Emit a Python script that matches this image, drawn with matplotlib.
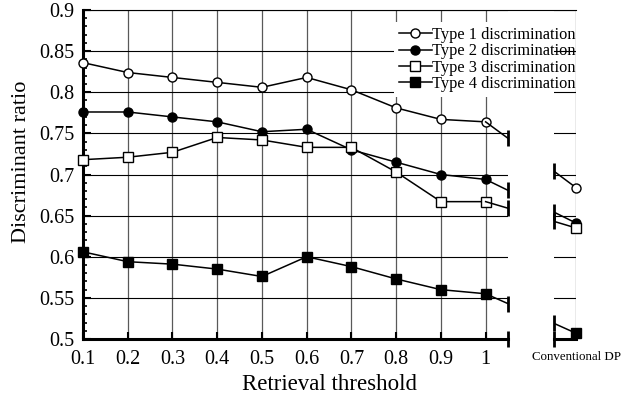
import numpy as np
import matplotlib
matplotlib.use("Agg")
import matplotlib.pyplot as plt
from matplotlib.lines import Line2D
from matplotlib.ticker import MultipleLocator

plt.rcParams['font.family'] = ['Liberation Serif', 'DejaVu Serif']

# valores
umbrales = [0.1, 0.2, 0.3, 0.4, 0.5, 0.6, 0.7, 0.8, 0.9, 1.0]
etiquetas_umbral = ['0.1', '0.2', '0.3', '0.4', '0.5', '0.6', '0.7', '0.8', '0.9', '1']
tipo1 = [0.836, 0.824, 0.818, 0.812, 0.806, 0.818, 0.803, 0.781, 0.767, 0.764]
tipo2 = [0.776, 0.776, 0.770, 0.764, 0.752, 0.755, 0.730, 0.715, 0.700, 0.694]
tipo3 = [0.718, 0.721, 0.727, 0.745, 0.742, 0.733, 0.733, 0.703, 0.667, 0.667]
tipo4 = [0.606, 0.594, 0.591, 0.585, 0.576, 0.600, 0.588, 0.573, 0.560, 0.555]
dp_convencional = [0.684, 0.641, 0.635, 0.507]
nombres = ['Type 1 discrimination', 'Type 2 discrimination',
           'Type 3 discrimination', 'Type 4 discrimination']
etiqueta_dp = 'Conventional DP'

# estilo de cada serie: (marcador, relleno)
estilos = [('o', 'white'), ('o', 'black'), ('s', 'white'), ('s', 'black')]

X_DP = 1.2          # posicion del punto "Conventional DP" tras el corte
CORTE_IZQ = 1.05    # fin del eje principal
CORTE_DER = 1.15    # inicio del eje derecho


def generar_grafico():
    W, H = 638, 407
    fig = plt.figure(figsize=(W / 100, H / 100), dpi=100)
    ax = fig.add_axes([83 / W, 68 / H, 425 / W, 329 / H])
    ax2 = fig.add_axes([554 / W, 68 / H, 22 / W, 329 / H])
    ax2.patch.set_alpha(0)

    series = [tipo1, tipo2, tipo3, tipo4]
    for serie, (mk, fc), nombre, dp in zip(series, estilos, nombres, dp_convencional):
        ax.plot(umbrales, serie, color='k', lw=1.1, marker=mk, ms=6.5,
                mfc=fc, mec='k', mew=1.0, label=nombre, clip_on=False, zorder=3)
        # tramo que cruza el corte
        tramo_x = [umbrales[-1], X_DP]
        tramo_y = [serie[-1], dp]
        ax.plot(tramo_x, tramo_y, color='k', lw=1.1, zorder=3)
        ax2.plot(tramo_x, tramo_y, color='k', lw=1.1, zorder=3)
        ax2.plot([X_DP], [dp], color='k', marker=mk, ms=6.5, mfc=fc, mec='k',
                 mew=1.0, clip_on=False, zorder=4)
        # marcas del corte
        y_izq = np.interp(CORTE_IZQ, tramo_x, tramo_y)
        y_der = np.interp(CORTE_DER, tramo_x, tramo_y)
        ax.plot([CORTE_IZQ], [y_izq], marker='|', ms=12, mew=2, color='k', clip_on=False, zorder=5)
        ax2.plot([CORTE_DER], [y_der], marker='|', ms=12, mew=2, color='k', clip_on=False, zorder=5)

    ax.plot([CORTE_IZQ], [0.5], marker='|', ms=12, mew=2, color='k', clip_on=False, zorder=5)
    ax2.plot([CORTE_DER], [0.5], marker='|', ms=12, mew=2, color='k', clip_on=False, zorder=5)

    # eje principal
    ax.set_xlim(0.1, CORTE_IZQ)
    ax.set_ylim(0.5, 0.9)
    ax.set_xticks(umbrales)
    ax.set_xticklabels(etiquetas_umbral)
    ax.yaxis.set_major_locator(MultipleLocator(0.05))
    ax.yaxis.set_minor_locator(MultipleLocator(0.01))
    ax.set_yticklabels([f'{v:g}' for v in ax.get_yticks()])
    ax.tick_params(axis='both', which='major', direction='in', labelsize=14.5, width=1.5)
    ax.tick_params(axis='y', which='major', length=6, pad=6)
    ax.tick_params(axis='y', which='minor', direction='in', length=3, width=1.2)
    ax.tick_params(axis='x', which='major', length=5, pad=8)
    ax.set_axisbelow(True)
    ax.yaxis.grid(True, color='k', lw=0.8)
    ax.xaxis.grid(True, color='0.35', lw=0.9)
    for lado in ['top', 'right']:
        ax.spines[lado].set_visible(False)
    for lado in ['left', 'bottom']:
        ax.spines[lado].set_linewidth(2.2)

    # eje derecho (Conventional DP)
    ax2.set_xlim(CORTE_DER, X_DP)
    ax2.set_ylim(0.5, 0.9)
    ax2.set_xticks([X_DP])
    ax2.set_xticklabels([etiqueta_dp])
    ax2.yaxis.set_major_locator(MultipleLocator(0.05))
    ax2.tick_params(axis='x', length=0, labelsize=9.3, pad=9)
    ax2.tick_params(axis='y', length=0, labelleft=False)
    ax2.set_axisbelow(True)
    ax2.yaxis.grid(True, color='k', lw=0.8)
    ax2.xaxis.grid(True, color='0.35', lw=0.9)
    for lado in ['top', 'right', 'left']:
        ax2.spines[lado].set_visible(False)
    ax2.spines['bottom'].set_linewidth(2.2)

    # linea superior continua
    fig.add_artist(Line2D([83 / W, 576 / W], [397 / H, 397 / H], color='k', lw=0.8))

    leg = ax.legend(loc='upper right', bbox_to_anchor=(580 / W, 1 - 22 / H),
                    bbox_transform=fig.transFigure, fontsize=11.8, frameon=True,
                    fancybox=False, edgecolor='none', facecolor='white', framealpha=1,
                    handlelength=2.0, handletextpad=0.0, labelspacing=0.02,
                    borderpad=0.3, borderaxespad=0)
    leg.set_zorder(6)

    fig.text(329.5 / W, 1 - 384 / H, 'Retrieval threshold', ha='center', va='center', fontsize=16.5)
    fig.text(22 / W, 1 - 162 / H, 'Discriminant ratio', rotation=90, ha='center', va='center', fontsize=16)

    fig.savefig('out.png', dpi=100)


if __name__ == "__main__":
    generar_grafico()
